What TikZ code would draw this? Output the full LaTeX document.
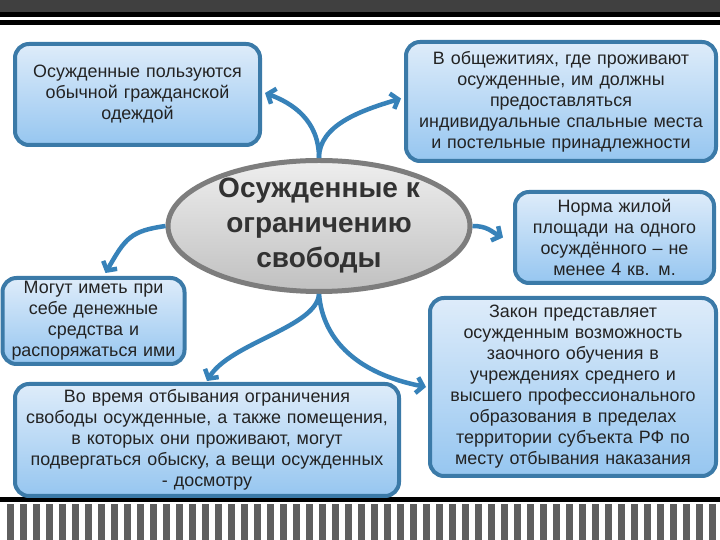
\documentclass[tikz,border=0pt]{standalone}
\usepackage{fontspec}
\setmainfont{Liberation Sans}
\usetikzlibrary{shapes.geometric,arrows.meta}
\definecolor{boxborder}{RGB}{59,122,168}
\definecolor{boxtop}{RGB}{222,236,250}
\definecolor{boxbot}{RGB}{150,198,240}
\definecolor{arrowblue}{RGB}{55,130,185}
\definecolor{ellborder}{RGB}{125,125,125}
\definecolor{elltop}{RGB}{238,238,238}
\definecolor{ellbot}{RGB}{192,192,192}
\definecolor{txt}{RGB}{35,35,35}
\definecolor{hubtxt}{RGB}{50,50,50}
\definecolor{topgray}{RGB}{64,64,64}
\definecolor{bargray}{RGB}{95,95,95}
\begin{document}
\begin{tikzpicture}[x=1pt,y=1pt,
  infobox/.style={draw=boxborder, line width=4pt, rounded corners=14pt,
    top color=boxtop, bottom color=boxbot, text=txt, align=center,
    inner sep=0pt, font=\fontsize{17.9}{21}\selectfont},
  hub/.style={ellipse, draw=ellborder, line width=5pt, top color=elltop,
    bottom color=ellbot, text=hubtxt, align=center, inner sep=-16pt,
    font=\bfseries\fontsize{28}{35}\selectfont},
  link/.style={draw=arrowblue, line width=4.5pt,
    -{Straight Barb[length=6.5pt,width=16pt]}},
  band/.style={fill=topgray},
  rule/.style={fill=black},
  bar/.style={fill=bargray}]
\fill[white] (0,0) rectangle (720,540);
\useasboundingbox (0,0) rectangle (720,540);
% top band
\fill[band] (0,528) rectangle (720,540);
\fill[rule] (0,523) rectangle (720,528);
\fill[rule] (0,515) rectangle (720,519.5);
% bottom rule and bars
\fill[rule] (0,38) rectangle (720,43);
\foreach \i in {0,...,54} \fill[bar] ({7.3+13*\i},0) rectangle ++(6.7,36);

% nodes
\node[hub, minimum width=302pt, minimum height=131pt] (hub) at (319,314)
  {Осужденные к\\ ограничению\\ свободы};
\node[infobox, minimum width=245pt, minimum height=101pt, text width=240pt] (b1) at (137.5,445.5)
  {Осужденные пользуются\\ обычной гражданской\\ одеждой};
\node[infobox, minimum width=310pt, minimum height=119pt, text width=305pt] (b2) at (561,438.5)
  {В общежитиях, где проживают\\ осужденные, им должны\\ предоставляться\\ индивидуальные спальные места\\ и постельные принадлежности};
\node[infobox, minimum width=199pt, minimum height=91pt, text width=195pt] (b4) at (614.5,302.5)
  {Норма жилой\\ площади на одного\\ осуждённого – не\\ менее 4 кв. м.};
\node[infobox, minimum width=286pt, minimum height=178pt, text width=282pt] (b5) at (573,153)
  {Закон представляет\\ осужденным возможность\\ заочного обучения в\\ учреждениях среднего и\\ высшего профессионального\\ образования в пределах\\ территории субъекта РФ по\\ месту отбывания наказания};
\node[infobox, minimum width=182pt, minimum height=86pt, text width=180pt] (b6) at (93.5,219)
  {Могут иметь при\\ себе денежные\\ средства и\\ распоряжаться ими};
\node[infobox, minimum width=384pt, minimum height=112pt, text width=380pt] (b7) at (207,100)
  {Во время отбывания ограничения\\ свободы осужденные, а также помещения,\\ в которых они проживают, могут\\ подвергаться обыску, а вещи осужденных\\ - досмотру};

% connectors
\draw[link] (hub.north) .. controls +(0,38) and +(27,-10) .. ([xshift=3pt,yshift=1.5pt]b1.east);
\draw[link] (hub.north) .. controls +(0,33) and +(-40,-12) .. ([xshift=-3pt,yshift=3pt]b2.west);
\draw[link] (hub.west) .. controls +(-35,-5) and +(20,35) .. ([xshift=12pt,yshift=3pt]b6.north);
\draw[link] (hub.south) .. controls +(-2,-33) and +(23,38) .. ([yshift=1pt]b7.north);
\draw[link] (hub.south) .. controls +(4,-48) and +(-66,13) .. ([xshift=-2pt]b5.west);
\draw[link] (hub.east) .. controls +(15,0) and +(-12,6) .. ([xshift=-10pt]b4.west);
\end{tikzpicture}
\end{document}
